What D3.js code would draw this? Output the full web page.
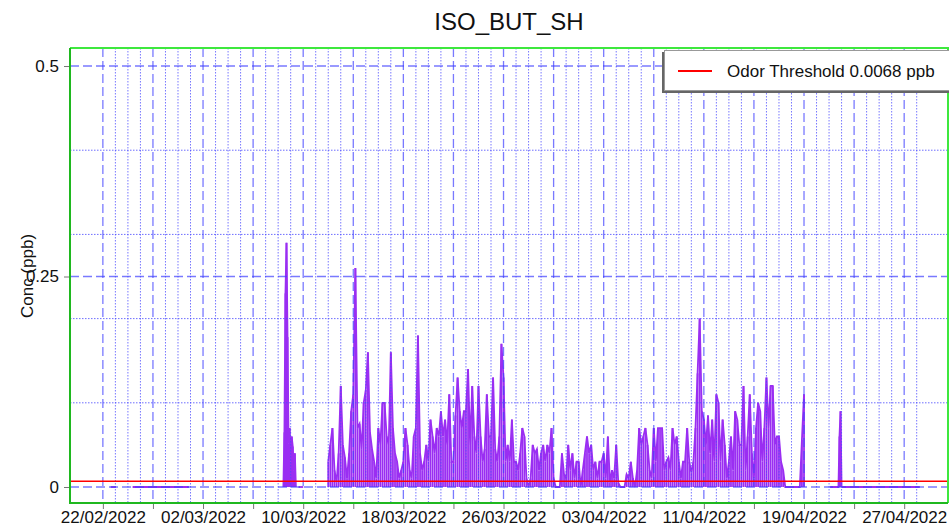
<!DOCTYPE html>
<html>
<head>
<meta charset="utf-8">
<script src="https://cdn.jsdelivr.net/npm/d3@7"></script>
<style>
  body { margin: 0; background: #fff; }
  svg { display: block; font-family: "Liberation Sans", Arial, sans-serif; }
</style>
</head>
<body>
<div class="chart-container"></div>
<script>
// ---- data ----
const chartTitle = 'ISO_BUT_SH'
const yLabel = 'Conc (ppb)'
const thresholdValue = 0.0068
const thresholdLabel = 'Odor Threshold 0.0068 ppb'

const yMajorTicks = [0, 0.25, 0.5]
const yMinorTicks = [0.1, 0.2, 0.3, 0.4]

// each segment: start time, step in hours, values (ppb)
const segStarts = ['2022-02-22T15:00', '2022-02-24T09:00', '2022-03-08T10:00', '2022-03-09T15:00',
  '2022-03-12T00:00', '2022-04-21T02:00', '2022-04-22T00:00']
const segSteps = [2, 6, 2, 3, 4, 2, 6]

const segA = [0, 0, 0, 0, 0, 0]
const segB = [0, 0, 0, 0, 0, 0, 0, 0, 0, 0, 0, 0, 0, 0, 0, 0, 0, 0, 0]
const segC = [0, 0.065, 0.23, 0.29, 0.178, 0.052, 0.07, 0.03, 0.06, 0.048, 0.02, 0.04, 0]
const segD = [0, 0, 0, 0]
const segE = [
  0.03, 0.05, 0.07, 0.02, 0.005, 0.04,   // 12/03
  0.12, 0.05, 0.035, 0.01, 0.04, 0.09,
  0.11, 0.26, 0.07, 0.075, 0.045, 0.10,
  0.115, 0.16, 0.065, 0.045, 0.03, 0.01,
  0.07, 0.05, 0.10, 0.10, 0.06, 0.05,
  0.16, 0.07, 0.04, 0.03, 0.01, 0.02,
  0.03, 0.07, 0.05, 0.02, 0.01, 0.06,    // 18/03
  0.07, 0.18, 0.04, 0.02, 0.03, 0.05,
  0.03, 0.08, 0.06, 0.04, 0.07, 0.06,
  0.09, 0.06, 0.08, 0.05, 0.11, 0.03,
  0.03, 0.085, 0.13, 0.09, 0.07, 0.09,
  0.09, 0.14, 0.05, 0.12, 0.06, 0.04,
  0.12, 0.06, 0.03, 0.045, 0.11, 0.06,
  0.06, 0.13, 0.045, 0.03, 0.06, 0.17,
  0.13, 0.03, 0.05, 0.03, 0.08, 0.03,    // 26/03
  0.03, 0.02, 0.04, 0.07, 0.06, 0.01,
  0.0, 0.01, 0.05, 0.04, 0.045, 0.02,
  0.04, 0.05, 0.03, 0.05, 0.04, 0.07,
  0.01, 0.0, 0.0, 0.0, 0.04, 0.015,
  0.01, 0.05, 0.02, 0.04, 0.01, 0.03,
  0.03, 0.0, 0.02, 0.04, 0.06, 0.04,     // 01/04
  0.05, 0.02, 0.03, 0.01, 0.03, 0.03,
  0.04, 0.01, 0.06, 0.005, 0.02, 0.01,
  0.05, 0.005, 0.0, 0.0, 0.0, 0.015,
  0.01, 0.03, 0.01, 0.0, 0.02, 0.07,
  0.05, 0.06, 0.07, 0.05, 0.02, 0.01,
  0.07, 0.03, 0.07, 0.07, 0.07, 0.02,
  0.03, 0.035, 0.02, 0.07, 0.05, 0.06,
  0.03, 0.01, 0.03, 0.03, 0.07, 0.03,
  0.017, 0.03, 0.07, 0.135, 0.20, 0.09,  // 10/04
  0.08, 0.05, 0.085, 0.04, 0.08, 0.03,
  0.11, 0.10, 0.03, 0.08, 0.05, 0.01,
  0.03, 0.06, 0.02, 0.09, 0.08, 0.05,
  0.05, 0.12, 0.02, 0.06, 0.11, 0.04,
  0.01, 0.07, 0.10, 0.09, 0.03, 0.07,
  0.13, 0.07, 0.12, 0.12, 0.05, 0.06,
  0.06, 0.03, 0.02, 0, 0, 0,
  0, 0, 0, 0, 0, 0.056,
  0.11
]
const segF = [0, 0, 0, 0, 0, 0, 0, 0, 0, 0.06, 0.09, 0]
const segG = [0, 0, 0, 0, 0, 0, 0, 0, 0, 0, 0, 0, 0, 0, 0, 0, 0, 0, 0, 0, 0, 0, 0, 0, 0, 0]

const segValues = [segA, segB, segC, segD, segE, segF, segG]

// ---- layout ----
const width = 949
const height = 528
const plot = { left: 70, right: 948, top: 48, bottom: 503 }
const purple = '#9a2ef2'

const parse = d3.timeParse('%Y-%m-%dT%H:%M')

const x = d3.scaleTime()
  .domain([parse('2022-02-19T09:00'), parse('2022-04-30T12:00')])
  .range([plot.left, plot.right])

const y = d3.scaleLinear()
  .domain([-0.019, 0.5214])
  .range([plot.bottom, plot.top])

const segments = segValues.map((vals, i) => {
  let t0 = parse(segStarts[i])
  return vals.map((v, j) => ({ date: d3.timeHour.offset(t0, j * segSteps[i]), value: v }))
})
const allPoints = segments.flat()

const svg = d3.select('.chart-container')
  .append('svg')
  .attr('width', width)
  .attr('height', height)

svg.append('defs').append('clipPath')
  .attr('id', 'plot-clip')
  .append('rect')
  .attr('x', plot.left)
  .attr('y', plot.top)
  .attr('width', plot.right - plot.left)
  .attr('height', plot.bottom - plot.top)

const inner = svg.append('g').attr('clip-path', 'url(#plot-clip)')

// data: dense hourly-looking trace -> needles plus the joining line
inner.append('g')
  .selectAll('line')
  .data(allPoints.filter(d => d.value > 0))
  .enter()
  .append('line')
  .attr('x1', d => x(d.date))
  .attr('x2', d => x(d.date))
  .attr('y1', y(0))
  .attr('y2', d => y(d.value))
  .attr('stroke', purple)
  .attr('stroke-width', 1.8)

const line = d3.line()
  .x(d => x(d.date))
  .y(d => y(d.value))

inner.append('g')
  .selectAll('path')
  .data(segments)
  .enter()
  .append('path')
  .attr('d', line)
  .attr('fill', 'none')
  .attr('stroke', purple)
  .attr('stroke-width', 1.8)

// grid (drawn over the data, like the original)
const gridStart = parse('2022-02-22T00:00')
const gridEnd = parse('2022-04-28T00:00')
const days = d3.timeDay.range(gridStart, d3.timeDay.offset(gridEnd, 1))
const isMajorDay = d => Math.round((d - gridStart) / 864e5) % 4 === 0

const grid = inner.append('g')

grid.selectAll('.vgrid')
  .data(days)
  .enter()
  .append('line')
  .attr('x1', d => x(d))
  .attr('x2', d => x(d))
  .attr('y1', plot.top)
  .attr('y2', plot.bottom)
  .attr('stroke', d => isMajorDay(d) ? '#4040ff' : '#4a4aff')
  .attr('stroke-opacity', d => isMajorDay(d) ? 0.7 : 0.75)
  .attr('stroke-width', d => isMajorDay(d) ? 1.3 : 1)
  .attr('stroke-dasharray', d => isMajorDay(d) ? '9,4' : '1.5,1.5')

grid.selectAll('.hminor')
  .data(yMinorTicks)
  .enter()
  .append('line')
  .attr('x1', plot.left)
  .attr('x2', plot.right)
  .attr('y1', d => y(d))
  .attr('y2', d => y(d))
  .attr('stroke', '#4a4aff')
  .attr('stroke-opacity', 0.8)
  .attr('stroke-dasharray', '1.5,1.5')

grid.selectAll('.hmajor')
  .data(yMajorTicks)
  .enter()
  .append('line')
  .attr('x1', plot.left)
  .attr('x2', plot.right)
  .attr('y1', d => y(d))
  .attr('y2', d => y(d))
  .attr('stroke', '#4040ff')
  .attr('stroke-opacity', 0.7)
  .attr('stroke-width', 1.3)
  .attr('stroke-dasharray', '9,4')

// threshold
inner.append('line')
  .attr('x1', plot.left)
  .attr('x2', plot.right)
  .attr('y1', y(thresholdValue))
  .attr('y2', y(thresholdValue))
  .attr('stroke', '#ff0000')
  .attr('stroke-width', 1.5)

// axes
const fmt = d3.timeFormat('%d/%m/%Y')
const xTicks = days.filter(isMajorDay)

const xAxis = svg.append('g')
  .attr('transform', `translate(0,${plot.bottom})`)
  .call(d3.axisBottom(x)
    .tickValues(xTicks)
    .tickSize(6)
    .tickFormat((d, i) => i % 2 === 0 ? fmt(d) : ''))

const yAxis = svg.append('g')
  .attr('transform', `translate(${plot.left},0)`)
  .call(d3.axisLeft(y)
    .tickValues(yMajorTicks)
    .tickSize(6)
    .tickFormat(d3.format('')))

;[xAxis, yAxis].forEach(a => {
  a.select('.domain').remove()
  a.selectAll('.tick line').attr('stroke', '#777')
  a.selectAll('.tick text')
    .attr('fill', '#111')
    .style('font-size', '17px')
    .style('font-family', '"Liberation Sans", Arial, sans-serif')
})
xAxis.selectAll('.tick text').attr('y', 8).attr('dy', '0.7em')
yAxis.selectAll('.tick text').attr('x', -11)

// plot frame
svg.append('path')
  .attr('d', `M${plot.left},${plot.top}H${plot.right}V${plot.bottom}`)
  .attr('fill', 'none')
  .attr('stroke', '#3ee83e')
  .attr('stroke-width', 2)

svg.append('path')
  .attr('d', `M${plot.left},${plot.top}V${plot.bottom}H${plot.right}`)
  .attr('fill', 'none')
  .attr('stroke', '#1fb81f')
  .attr('stroke-width', 2)

// title and y label
svg.append('text')
  .attr('x', (plot.left + plot.right) / 2)
  .attr('y', 30)
  .attr('text-anchor', 'middle')
  .style('font-size', '24px')
  .attr('fill', '#111')
  .text(chartTitle)

svg.append('text')
  .attr('transform', 'translate(33,276) rotate(-90)')
  .attr('text-anchor', 'middle')
  .style('font-size', '17px')
  .attr('fill', '#111')
  .text(yLabel)

// legend
const legend = svg.append('g')

legend.append('rect')
  .attr('x', 662)
  .attr('y', 52)
  .attr('width', 300)
  .attr('height', 41)
  .attr('fill', '#666')

legend.append('rect')
  .attr('x', 664.5)
  .attr('y', 50.5)
  .attr('width', 300)
  .attr('height', 40)
  .attr('fill', '#fff')
  .attr('stroke', '#999')

legend.append('line')
  .attr('x1', 678)
  .attr('x2', 712)
  .attr('y1', 71)
  .attr('y2', 71)
  .attr('stroke', '#ff0000')
  .attr('stroke-width', 2)

legend.append('text')
  .attr('x', 727)
  .attr('y', 77)
  .style('font-size', '17px')
  .attr('fill', '#111')
  .text(thresholdLabel)
</script>
</body>
</html>
